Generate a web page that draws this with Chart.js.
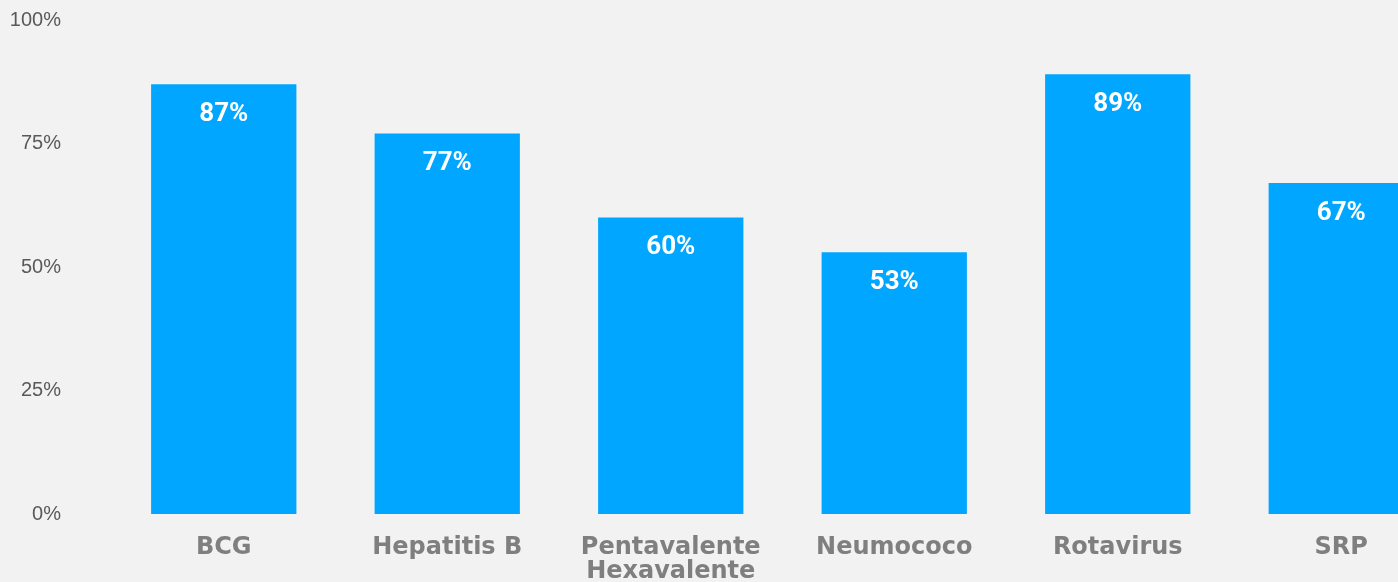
<!DOCTYPE html>
<html>
<head>
<meta charset="utf-8">
<script src="https://cdn.jsdelivr.net/npm/chart.js@4/dist/chart.umd.min.js"></script>
<style>
    html, body { margin: 0; padding: 0; background: #f2f2f2; overflow: hidden; }
    #wrap { width: 1453px; height: 582px; }
    .preload { position: absolute; left: -9999px; top: 0; }
</style>
</head>
<body>
<div id="wrap"><canvas id="chart" width="1453" height="582"></canvas></div>
<span class="preload" style="font: bold 25px Roboto">87%</span>
<span class="preload" style="font: bold 24px 'DejaVu Sans'">BCG</span>
<span class="preload" style="font: 20px 'Liberation Sans'">100%</span>
<script>
const categories = ['BCG', 'Hepatitis B', ['Pentavalente', 'Hexavalente'], 'Neumococo', 'Rotavirus', 'SRP'];
const coverage = [87, 77, 60, 53, 89, 67];
const yTicks = [0, 25, 50, 75, 100];

// draws the white % labels inside the top of each bar
const barLabels = {
    id: 'barLabels',
    afterDatasetsDraw (chart) {
        const ctx = chart.ctx;
        const meta = chart.getDatasetMeta(0);
        ctx.save();
        ctx.fillStyle = '#ffffff';
        ctx.font = 'bold 26px Roboto';
        ctx.textAlign = 'center';
        ctx.textBaseline = 'middle';
        meta.data.forEach((bar, i) => {
            ctx.fillText(coverage[i] + '%', bar.x, bar.y + 30);
        });
        ctx.restore();
    }
};

function drawChart () {
    new Chart(document.getElementById('chart'), {
        type: 'bar',
        data: {
            labels: categories,
            datasets: [{
                data: coverage,
                backgroundColor: '#00a6ff',
                borderWidth: 0,
                categoryPercentage: 0.65,
                barPercentage: 1
            }]
        },
        options: {
            responsive: false,
            animation: false,
            layout: { padding: { top: 20, left: 0, right: 0, bottom: 0 } },
            plugins: {
                legend: { display: false },
                tooltip: { enabled: false }
            },
            scales: {
                x: {
                    grid: { display: false, drawTicks: false },
                    border: { display: false },
                    ticks: {
                        color: '#7f7f7f',
                        font: { family: 'DejaVu Sans', size: 24, weight: 'bold', lineHeight: 1.0 },
                        padding: 22,
                        maxRotation: 0,
                        autoSkip: false
                    },
                    afterFit (scale) { scale.height = 68; }
                },
                y: {
                    min: 0,
                    max: 100,
                    grid: { display: false, drawTicks: false },
                    border: { display: false },
                    afterBuildTicks (scale) { scale.ticks = yTicks.map(v => ({ value: v })); },
                    ticks: {
                        color: '#595959',
                        font: { family: 'Liberation Sans', size: 20 },
                        padding: 51,
                        callback: (v) => v + '%'
                    },
                    afterFit (scale) {
                        scale.width = 112;
                        // the big tick padding would otherwise push the plot down
                        scale.paddingTop = 0;
                        scale.paddingBottom = 0;
                    }
                }
            }
        },
        plugins: [barLabels]
    });
}

Promise.all([
    document.fonts.load('bold 26px Roboto'),
    document.fonts.load('bold 24px "DejaVu Sans"'),
    document.fonts.load('20px "Liberation Sans"')
]).then(drawChart, drawChart);
</script>
</body>
</html>
